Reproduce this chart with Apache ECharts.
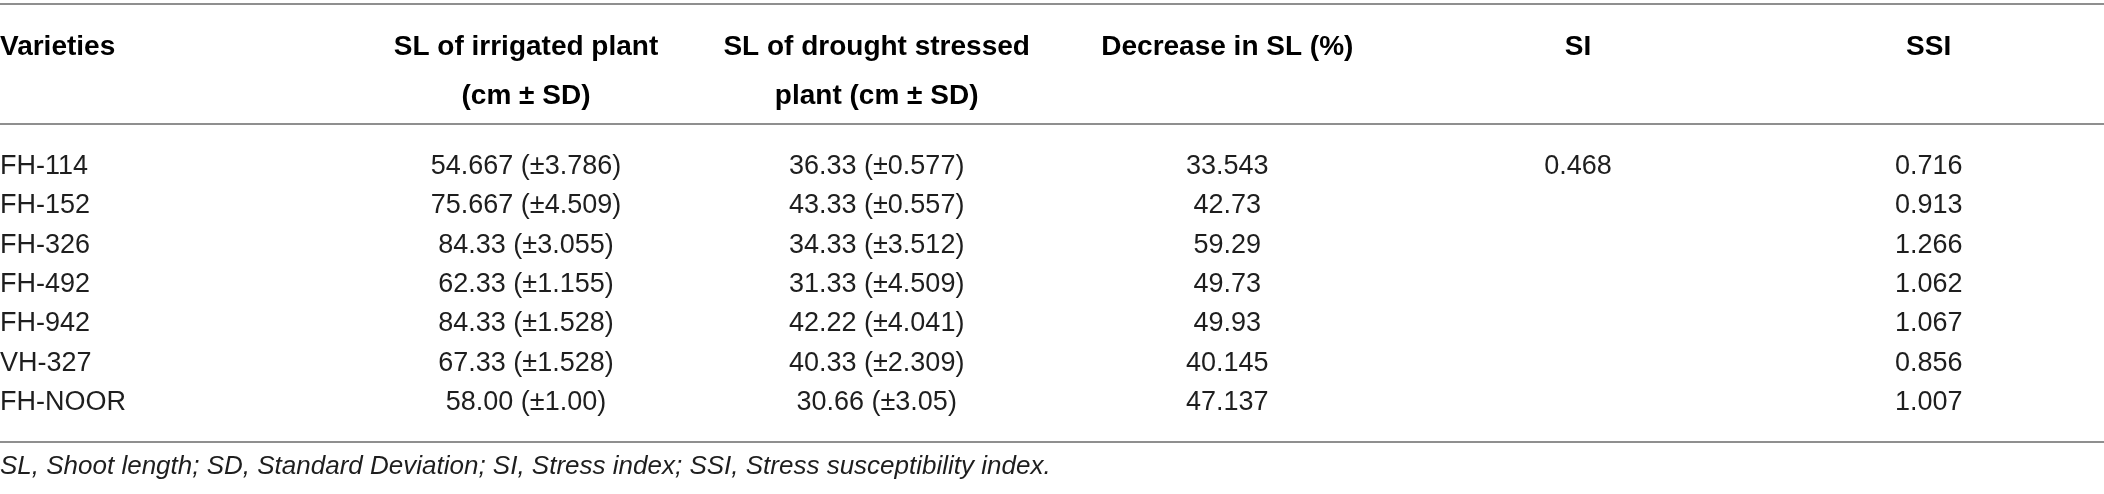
<!DOCTYPE html>
<html>
<head>
<meta charset="utf-8">
<title>Shoot length table</title>
<script src="https://cdn.jsdelivr.net/npm/echarts@6/dist/echarts.min.js"></script>
<style>
  html, body { margin: 0; padding: 0; background: #fff; }
  #main { width: 2104px; height: 494px; }
</style>
</head>
<body>
<div id="main"></div>
<script>
// table contents
var columns = [
  'Varieties',
  'SL of irrigated plant\n(cm ± SD)',
  'SL of drought stressed\nplant (cm ± SD)',
  'Decrease in SL (%)',
  'SI',
  'SSI'
];
var varieties = ['FH-114', 'FH-152', 'FH-326', 'FH-492', 'FH-942', 'VH-327', 'FH-NOOR'];
var slIrrigated = ['54.667 (±3.786)', '75.667 (±4.509)', '84.33 (±3.055)', '62.33 (±1.155)',
  '84.33 (±1.528)', '67.33 (±1.528)', '58.00 (±1.00)'];
var slDrought = ['36.33 (±0.577)', '43.33 (±0.557)', '34.33 (±3.512)', '31.33 (±4.509)',
  '42.22 (±4.041)', '40.33 (±2.309)', '30.66 (±3.05)'];
var decreaseSL = ['33.543', '42.73', '59.29', '49.73', '49.93', '40.145', '47.137'];
var stressIndex = ['0.468', '', '', '', '', '', ''];
var ssi = ['0.716', '0.913', '1.266', '1.062', '1.067', '0.856', '1.007'];
var footnote = 'SL, Shoot length; SD, Standard Deviation; SI, Stress index; SSI, Stress susceptibility index.';

var FONT = '"Liberation Sans", Arial, Helvetica, sans-serif';
var RULE = '#8f8f8f';

// one cell per [column, row]
var colData = [varieties, slIrrigated, slDrought, decreaseSL, stressIndex, ssi];
var cells = [];
colData.forEach(function (list, c) {
  list.forEach(function (txt, r) {
    if (txt !== '') cells.push({ value: [c, r], text: txt });
  });
});

var chart = echarts.init(document.getElementById('main'));

chart.setOption({
  animation: false,
  grid: { left: 0, top: 147, width: 2106, height: 275 },
  xAxis: {
    type: 'category',
    data: columns.map(function (c, i) { return i; }),
    show: false
  },
  yAxis: {
    type: 'category',
    data: varieties,
    inverse: true,
    show: false
  },
  series: [{
    type: 'custom',
    coordinateSystem: 'cartesian2d',
    data: cells.map(function (d) { return d.value; }),
    renderItem: function (params, api) {
      var col = api.value(0);
      var pt = api.coord([col, api.value(1)]);
      var band = api.size([1, 1]);
      var first = col === 0;
      return {
        type: 'text',
        x: first ? pt[0] - band[0] / 2 : pt[0],
        y: pt[1],
        style: {
          text: cells[params.dataIndex].text,
          fill: '#1e1e1e',
          fontFamily: FONT,
          fontSize: 27,
          align: first ? 'left' : 'center',
          verticalAlign: 'middle'
        }
      };
    }
  }]
});

// header, rules and footnote placed against the same column scale
var band = chart.convertToPixel({ xAxisIndex: 0 }, 1) - chart.convertToPixel({ xAxisIndex: 0 }, 0);
var headers = columns.map(function (name, i) {
  var cx = chart.convertToPixel({ xAxisIndex: 0 }, i);
  return {
    type: 'text',
    x: i === 0 ? cx - band / 2 : cx,
    y: 30,
    style: {
      text: name,
      fill: '#000',
      fontFamily: FONT,
      fontSize: 28,
      fontWeight: 'bold',
      lineHeight: 49,
      align: i === 0 ? 'left' : 'center',
      verticalAlign: 'top'
    }
  };
});
// header text block starts so first line centres near y=47
headers.forEach(function (h) { h.y = 47 - 49 / 2; });

function rule(y) {
  return { type: 'line', shape: { x1: 0, y1: y, x2: 2104, y2: y }, style: { stroke: RULE, lineWidth: 2 } };
}

chart.setOption({
  graphic: headers.concat([
    rule(4), rule(124), rule(442),
    {
      type: 'text', x: 0, y: 467,
      style: {
        text: footnote, fill: '#1e1e1e', fontFamily: FONT, fontSize: 26,
        fontStyle: 'italic', align: 'left', verticalAlign: 'middle'
      }
    }
  ])
});
</script>
</body>
</html>
